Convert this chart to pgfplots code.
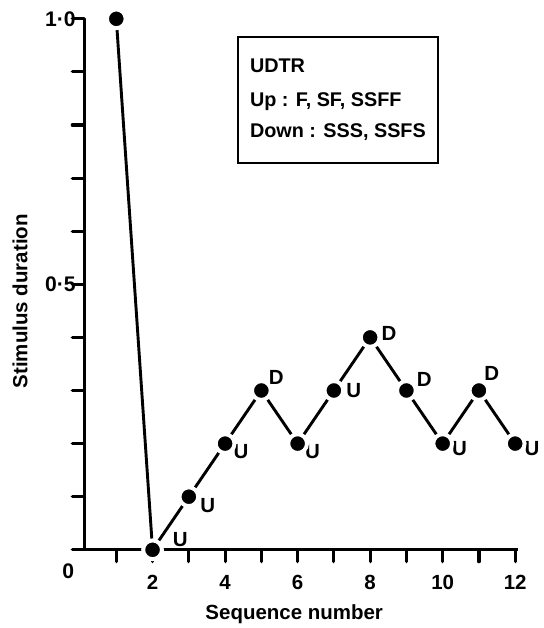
\documentclass[border=0pt]{standalone}
\usepackage{pgfplots}
\pgfplotsset{compat=1.18}
\usepackage{fontspec}
\setmainfont{Liberation Sans}
\begin{document}
\begin{tikzpicture}[font=\bfseries\fontsize{15.5}{18}\selectfont, line cap=round]
\begin{axis}[
  name=ax,
  scale only axis,
  width=328.5pt, height=402pt,
  xmin=0.115, xmax=12.08, ymin=0, ymax=1.0,
  axis lines=left,
  axis line style={-, line width=2.4pt},
  axis on top,
  xtick={1,2,...,12},
  xticklabels={,2,,4,,6,,8,,10,,12},
  ytick={0,0.1,0.2,0.3,0.4,0.5,0.6,0.7,0.8,0.9,1.0},
  yticklabels={,,,,,0·5,,,,,1·0},
  tick align=outside,
  major tick length=9pt,
  tick style={line width=2.4pt, black, line cap=round},
  xticklabel style={yshift=-7pt},
  yticklabel style={xshift=6pt, font=\bfseries\fontsize{16}{18}\selectfont},
  xlabel={Sequence number},
  ylabel={Stimulus duration},
  xlabel style={at={(axis description cs:0.484,-0.131)}, anchor=base},
  ylabel style={at={(axis description cs:-0.148,0.468)}, anchor=center, rotate=0},
  clip=false,
]
\addplot[line width=2.2pt, mark=*, mark size=7.1pt,
  mark options={fill=black, draw=white, line width=3pt}]
  coordinates {
  (1,1.0) (2,0.0) (3,0.1) (4,0.2) (5,0.3) (6,0.2) (7,0.3) (8,0.4) (9,0.3) (10,0.2) (11,0.3) (12,0.2)
  };
\node at (axis cs:2,0.0) [xshift=21pt, yshift=7.5pt] {U};
\node at (axis cs:3,0.1) [xshift=14.25pt, yshift=-6.75pt] {U};
\node at (axis cs:4,0.2) [xshift=12pt, yshift=-6pt] {U};
\node at (axis cs:5,0.3) [xshift=11.25pt, yshift=9.75pt] {D};
\node at (axis cs:6,0.2) [xshift=11.25pt, yshift=-6pt] {U};
\node at (axis cs:7,0.3) [xshift=15pt, yshift=0pt] {U};
\node at (axis cs:8,0.4) [xshift=14.25pt, yshift=3pt] {D};
\node at (axis cs:9,0.3) [xshift=13.5pt, yshift=8.25pt] {D};
\node at (axis cs:10,0.2) [xshift=12.75pt, yshift=-3.75pt] {U};
\node at (axis cs:11,0.3) [xshift=9.75pt, yshift=12.75pt] {D};
\node at (axis cs:12,0.2) [xshift=12.75pt, yshift=-3.75pt] {U};
\node[font=\bfseries\fontsize{16}{18}\selectfont] at (axis description cs:-0.037,-0.041) {0};
\draw[line width=1.6pt] (axis cs:4.35,0.728) rectangle (axis cs:9.87,0.966);
\node[anchor=base west, inner sep=0pt, font=\bfseries\fontsize{15}{18}\selectfont] at (axis cs:4.68,0.899) {UDTR};
\node[anchor=base west, inner sep=0pt, font=\bfseries\fontsize{15}{18}\selectfont] at (axis cs:4.68,0.834) {Up : F, SF, SSFF};
\node[anchor=base west, inner sep=0pt, font=\bfseries\fontsize{15}{18}\selectfont] at (axis cs:4.68,0.776) {Down : SSS, SSFS};
\end{axis}
\path (ax.south west) ++(-63.75pt,-54.75pt) rectangle ++(408.75pt,471pt);
\end{tikzpicture}
\end{document}
